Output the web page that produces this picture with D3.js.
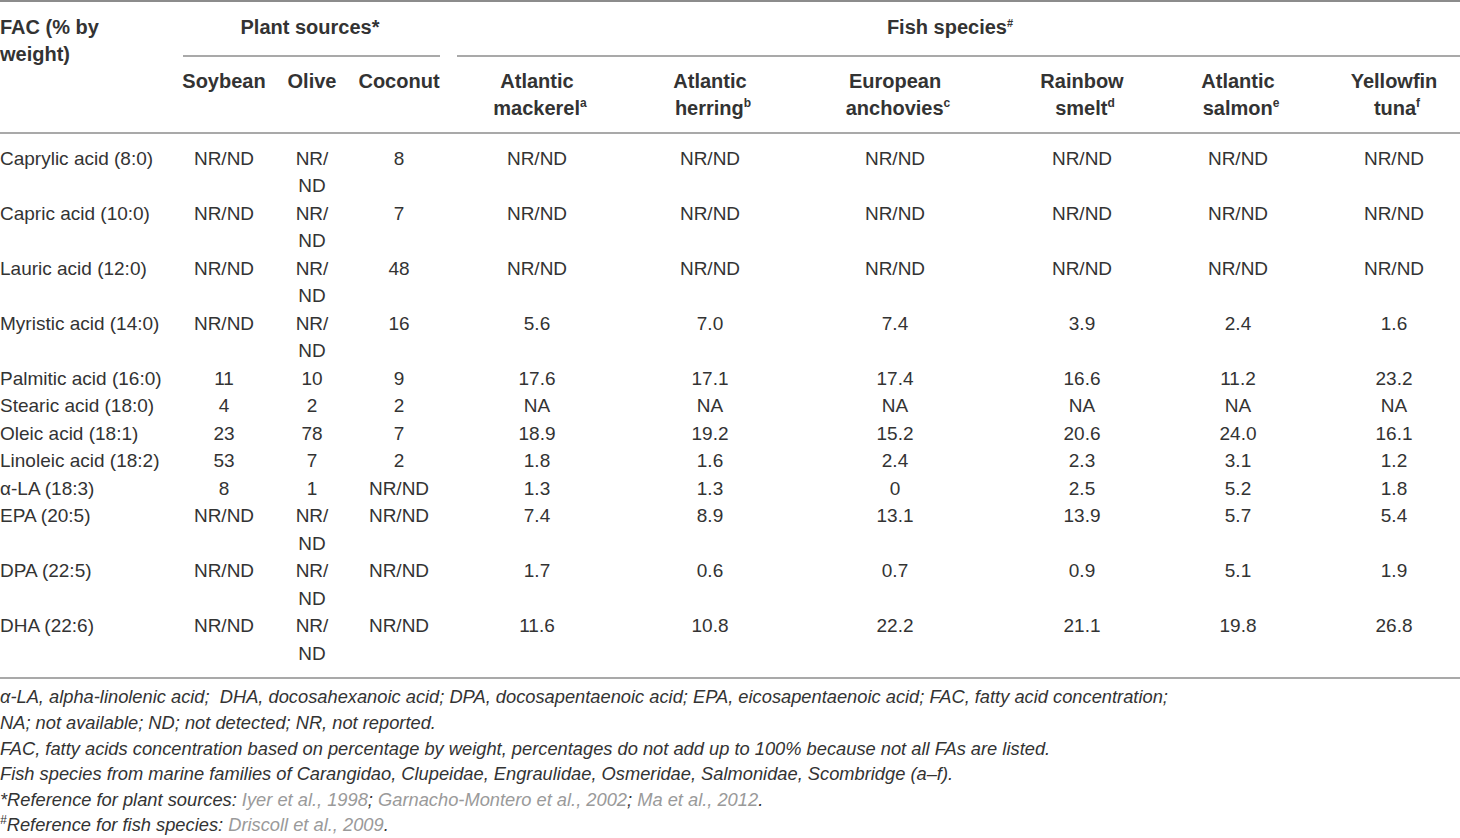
<!DOCTYPE html>
<html>

<head>
    <title>Fatty acid concentration, plant sources and fish species</title>
    <style>
        body {
            margin: 0;
            background: #fff;
            font-family: "Liberation Sans", Arial, Helvetica, sans-serif;
        }

        svg text {
            fill: #333;
            white-space: pre;
        }
    </style>
    <script src="https://d3js.org/d3.v7.min.js"></script>
</head>

<body>
    <svg width="1460" height="838"></svg>

    <script>

        // row labels
        var acids = ["Caprylic acid (8:0)", "Capric acid (10:0)", "Lauric acid (12:0)", "Myristic acid (14:0)",
            "Palmitic acid (16:0)", "Stearic acid (18:0)", "Oleic acid (18:1)", "Linoleic acid (18:2)",
            "\u03b1-LA (18:3)", "EPA (20:5)", "DPA (22:5)", "DHA (22:6)"];

        // column headers
        var plantSources = ["Soybean", "Olive", "Coconut"];
        var fishSpecies = [
            { top: "Atlantic", bottom: "mackerel", sup: "a" },
            { top: "Atlantic", bottom: "herring", sup: "b" },
            { top: "European", bottom: "anchovies", sup: "c" },
            { top: "Rainbow", bottom: "smelt", sup: "d" },
            { top: "Atlantic", bottom: "salmon", sup: "e" },
            { top: "Yellowfin", bottom: "tuna", sup: "f" }
        ];

        // values, one list per column
        var soybean = ["NR/ND", "NR/ND", "NR/ND", "NR/ND", "11", "4", "23", "53", "8", "NR/ND", "NR/ND", "NR/ND"];
        var olive = ["NR/ND", "NR/ND", "NR/ND", "NR/ND", "10", "2", "78", "7", "1", "NR/ND", "NR/ND", "NR/ND"];
        var coconut = ["8", "7", "48", "16", "9", "2", "7", "2", "NR/ND", "NR/ND", "NR/ND", "NR/ND"];
        var mackerel = ["NR/ND", "NR/ND", "NR/ND", "5.6", "17.6", "NA", "18.9", "1.8", "1.3", "7.4", "1.7", "11.6"];
        var herring = ["NR/ND", "NR/ND", "NR/ND", "7.0", "17.1", "NA", "19.2", "1.6", "1.3", "8.9", "0.6", "10.8"];
        var anchovies = ["NR/ND", "NR/ND", "NR/ND", "7.4", "17.4", "NA", "15.2", "2.4", "0", "13.1", "0.7", "22.2"];
        var smelt = ["NR/ND", "NR/ND", "NR/ND", "3.9", "16.6", "NA", "20.6", "2.3", "2.5", "13.9", "0.9", "21.1"];
        var salmon = ["NR/ND", "NR/ND", "NR/ND", "2.4", "11.2", "NA", "24.0", "3.1", "5.2", "5.7", "5.1", "19.8"];
        var tuna = ["NR/ND", "NR/ND", "NR/ND", "1.6", "23.2", "NA", "16.1", "1.2", "1.8", "5.4", "1.9", "26.8"];

        var columns = [soybean, olive, coconut, mackerel, herring, anchovies, smelt, salmon, tuna];

        var footnotes = [
            [{ t: "\u03b1-LA, alpha-linolenic acid;  DHA, docosahexanoic acid; DPA, docosapentaenoic acid; EPA, eicosapentaenoic acid; FAC, fatty acid concentration;" }],
            [{ t: "NA; not available; ND; not detected; NR, not reported." }],
            [{ t: "FAC, fatty acids concentration based on percentage by weight, percentages do not add up to 100% because not all FAs are listed." }],
            [{ t: "Fish species from marine families of Carangidao, Clupeidae, Engraulidae, Osmeridae, Salmonidae, Scombridge (a\u2013f)." }],
            [{ t: "*Reference for plant sources: " }, { t: "Iyer et al., 1998", ref: true }, { t: "; " },
            { t: "Garnacho-Montero et al., 2002", ref: true }, { t: "; " }, { t: "Ma et al., 2012", ref: true }, { t: "." }],
            [{ t: "#", sup: true }, { t: "Reference for fish species: " }, { t: "Driscoll et al., 2009", ref: true }, { t: "." }]
        ];

        var svg = d3.select("svg");
        var lineColor = "#8c8c8c";

        // column positions (centres) and wrap width
        var colKeys = d3.range(columns.length);
        var x = d3.scaleOrdinal().domain(colKeys)
            .range([224, 312, 399, 537, 710, 895, 1082, 1238, 1394]);
        var maxWidth = d3.scaleOrdinal().domain(colKeys)
            .range([80, 48, 80, 150, 150, 150, 150, 150, 150]);

        // measure text to decide wrapping
        var probe = svg.append("text").attr("font-size", 19);
        function measure(s) {
            probe.text(s);
            return probe.node().getComputedTextLength();
        }
        function wrap(s, c) {
            if (measure(s) > maxWidth(c) && s.indexOf("/") > -1) {
                var i = s.indexOf("/") + 1;
                return [s.slice(0, i), s.slice(i)];
            }
            return [s];
        }

        var cells = acids.map(function (a, r) {
            return columns.map(function (col, c) { return wrap(col[r], c); });
        });
        probe.remove();

        var rowLines = cells.map(function (row) { return d3.max(row, function (d) { return d.length; }); });
        var rowStart = [0];
        rowLines.forEach(function (n, i) { rowStart.push(rowStart[i] + n); });

        var y = d3.scaleLinear().domain([0, 1]).range([158, 185.5]);

        // horizontal rules
        svg.append("line").attr("x1", 0).attr("x2", 1460).attr("y1", 1).attr("y2", 1)
            .attr("stroke", lineColor).attr("stroke-width", 2);
        svg.append("line").attr("x1", 183).attr("x2", 440).attr("y1", 56).attr("y2", 56)
            .attr("stroke", lineColor).attr("stroke-width", 1.5);
        svg.append("line").attr("x1", 457).attr("x2", 1460).attr("y1", 56).attr("y2", 56)
            .attr("stroke", lineColor).attr("stroke-width", 1.5);
        svg.append("line").attr("x1", 0).attr("x2", 1460).attr("y1", 133).attr("y2", 133)
            .attr("stroke", lineColor).attr("stroke-width", 1.5);
        svg.append("line").attr("x1", 0).attr("x2", 1460).attr("y1", 678).attr("y2", 678)
            .attr("stroke", lineColor).attr("stroke-width", 1.5);

        // header
        var head = svg.append("g").attr("font-size", 20).attr("font-weight", "bold")
            .style("fill", "#262626");
        head.append("text").attr("x", 0).attr("y", 27).attr("dy", "0.35em").text("FAC (% by");
        head.append("text").attr("x", 0).attr("y", 54).attr("dy", "0.35em").text("weight)");
        head.append("text").attr("x", 310).attr("y", 27).attr("dy", "0.35em")
            .attr("text-anchor", "middle").text("Plant sources*");
        var fs = head.append("text").attr("x", 950).attr("y", 27).attr("dy", "0.35em")
            .attr("text-anchor", "middle");
        fs.append("tspan").text("Fish species");
        fs.append("tspan").attr("font-size", 11).attr("dy", "-0.6em").text("#");

        head.selectAll(".plant").data(plantSources).enter().append("text")
            .attr("class", "plant")
            .attr("x", function (d, i) { return x(i); })
            .attr("y", 81).attr("dy", "0.35em")
            .attr("text-anchor", "middle")
            .text(function (d) { return d; });

        var fish = head.selectAll(".fish").data(fishSpecies).enter().append("g").attr("class", "fish");
        fish.append("text")
            .attr("x", function (d, i) { return x(i + 3); })
            .attr("y", 81).attr("dy", "0.35em")
            .attr("text-anchor", "middle")
            .text(function (d) { return d.top; });
        var fb = fish.append("text")
            .attr("x", function (d, i) { return x(i + 3) + 3; })
            .attr("y", 108).attr("dy", "0.35em")
            .attr("text-anchor", "middle");
        fb.append("tspan").text(function (d) { return d.bottom; });
        fb.append("tspan").attr("font-size", 12).attr("dy", "-0.7em")
            .text(function (d) { return d.sup; });

        // body
        var body = svg.append("g").attr("font-size", 19);
        var rows = body.selectAll(".row").data(cells).enter().append("g").attr("class", "row");

        rows.append("text")
            .attr("x", 0)
            .attr("y", function (d, r) { return y(rowStart[r]); })
            .attr("dy", "0.35em")
            .text(function (d, r) { return acids[r]; });

        rows.each(function (row, r) {
            var g = d3.select(this);
            row.forEach(function (lines, c) {
                g.selectAll(".c" + c).data(lines).enter().append("text")
                    .attr("x", x(c))
                    .attr("y", function (d, k) { return y(rowStart[r] + k); })
                    .attr("dy", "0.35em")
                    .attr("text-anchor", "middle")
                    .text(function (d) { return d; });
            });
        });

        // footnotes
        var fy = d3.scaleLinear().domain([0, 1]).range([697, 722.6]);
        var notes = svg.append("g").attr("font-size", 18.3).attr("font-style", "italic");
        notes.selectAll("text").data(footnotes).enter().append("text")
            .attr("x", 0)
            .attr("y", function (d, i) { return fy(i); })
            .attr("dy", "0.35em")
            .each(function (parts) {
                var t = d3.select(this);
                parts.forEach(function (p) {
                    var s = t.append("tspan").text(p.t);
                    if (p.ref) s.style("fill", "#9a9a9a");
                    if (p.sup) s.attr("font-size", 12).attr("baseline-shift", "super");
                });
            });

    </script>

</body>

</html>
